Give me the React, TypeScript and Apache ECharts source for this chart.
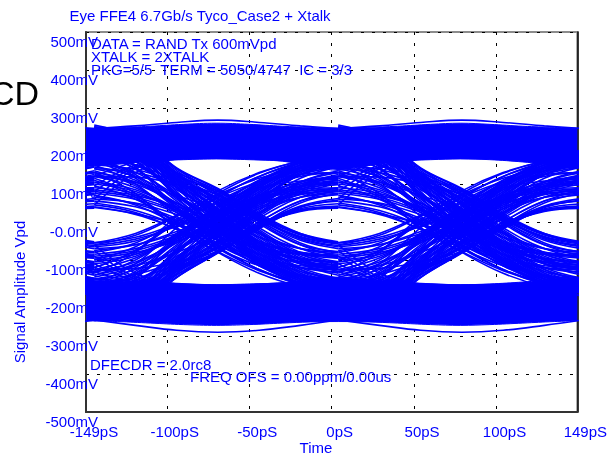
import React, { useEffect, useRef } from 'react';
import * as echarts from 'echarts';

const BLUE = '#0000ff';
const FONT = '"Liberation Sans", Arial, sans-serif';

const TITLE = 'Eye FFE4 6.7Gb/s Tyco_Case2 + Xtalk';
const NOTES_TOP = ['DATA = RAND Tx 600mVpd', 'XTALK = 2XTALK', 'PKG=5/5\u00a0 TERM = 5050/4747\u00a0 IC = 3/3'];
const NOTE_DFE = 'DFECDR = 2.0rc8';
const NOTE_FREQ = 'FREQ OFS = 0.00ppm/0.00us';
const Y_NAME = 'Signal Amplitude Vpd';
const X_NAME = 'Time';
const SIDE_TEXT = 'CD';

const X_LABELS = [-149, -100, -50, 0, 50, 100, 149];
const X_GRID = [-100, -50, 0, 50, 100];

// eye-centre times (ps) where each one-UI segment of the folded eye begins
const SEG_STARTS = [-292, -144, 4];
// sample times inside one UI segment (ps from the eye centre)
const SEG_T = [0, 25, 50, 75, 100, 125, 148];

// high -> low transitions (mV)
const HL = [
  [110, 65, -15, -80, -135, -170, -185],
  [150, 100, 15, -65, -125, -165, -185],
  [70, 45, -5, -55, -95, -115, -120],
  [200, 145, 35, -50, -115, -160, -180],
  [240, 190, 80, -15, -100, -155, -180],
  [180, 140, 60, -20, -95, -150, -170],
  [130, 105, 45, -10, -70, -110, -125],
  [250, 210, 110, 15, -75, -140, -170],
  [220, 185, 95, 5, -80, -140, -165],
  [160, 130, 70, 10, -55, -100, -115],
  [235, 200, 100, 25, -60, -130, -160],
  [90, 75, 35, -5, -50, -80, -90],
  [245, 215, 125, 45, -35, -100, -130],
  [210, 190, 120, 60, -15, -70, -95],
  [175, 165, 120, 80, 10, -45, -65],
  [250, 225, 135, 70, 0, -60, -90],
  [140, 130, 100, 65, 5, -40, -58],
  [195, 160, 75, -10, -95, -150, -175],
  [120, 90, 30, -35, -100, -140, -155],
  [230, 175, 65, -30, -110, -165, -195],
  [55, 40, 5, -30, -65, -85, -90],
  [215, 195, 115, 35, -45, -110, -140],
  [185, 150, 85, 20, -65, -125, -150],
  [240, 200, 90, -5, -90, -150, -175],
  [165, 120, 40, -40, -110, -155, -172],
  [225, 180, 75, -20, -105, -160, -185],
  [100, 80, 30, -20, -75, -110, -122],
  [205, 175, 90, 15, -70, -135, -160],
  [145, 120, 65, 5, -60, -105, -125],
  [250, 215, 115, 30, -55, -125, -155],
  [80, 65, 30, -10, -55, -85, -95],
  [190, 165, 100, 35, -40, -100, -120],
  [230, 205, 125, 55, -25, -85, -110],
  [120, 105, 70, 30, -30, -70, -85],
  [170, 125, 45, -35, -105, -150, -165],
  [240, 195, 95, 10, -80, -145, -175],
  [135, 95, 25, -45, -105, -145, -160],
  [200, 180, 110, 45, -30, -90, -115],
  [60, 50, 20, -15, -55, -80, -88],
  [215, 170, 70, -15, -100, -155, -178],
  [105, 85, 35, -25, -85, -120, -132],
  [255, 220, 120, 25, -65, -135, -165],
  [185, 140, 55, -25, -100, -150, -168],
  [125, 100, 50, -5, -65, -105, -118],
  [225, 195, 110, 30, -55, -120, -148],
  [160, 115, 35, -45, -115, -160, -178],
  [245, 205, 100, 5, -85, -150, -182],
  [75, 60, 25, -20, -65, -95, -105],
  [195, 175, 110, 50, -25, -85, -108],
  [140, 110, 50, -15, -85, -130, -148],
  [235, 210, 130, 60, -20, -80, -105],
  [115, 70, -5, -70, -125, -160, -175],
  [205, 160, 70, -10, -90, -145, -168],
  [85, 70, 40, 5, -40, -70, -80],
  [250, 230, 140, 75, 5, -55, -80],
  [170, 150, 90, 25, -50, -110, -135],
  [220, 185, 105, 20, -70, -140, -170],
  [95, 60, 0, -60, -110, -140, -150],
  [180, 165, 115, 60, -5, -60, -78],
  [240, 220, 130, 50, -30, -95, -125],
  [40, 22, -5, -40, -70, -85, -90],
  [50, 30, -8, -48, -85, -105, -112],
  [65, 48, 10, -30, -72, -98, -108],
  [165, 150, 110, 70, 8, -38, -55],
  [200, 185, 125, 75, 12, -42, -62],
  [150, 138, 105, 62, 2, -48, -70],
  [230, 215, 140, 85, 18, -32, -54],
  [190, 180, 130, 82, 15, -30, -52],
  [245, 228, 142, 88, 22, -30, -56],
  [120, 118, 100, 72, 12, -34, -55],
  [45, 25, -20, -70, -115, -140, -150],
  [38, 20, -18, -62, -100, -120, -125],
  [130, 75, -18, -78, -128, -162, -178],
];

// low -> high transitions (mV)
const LH = [
  [-120, -75, 5, 75, 128, 160, 172],
  [-160, -110, -15, 65, 120, 158, 175],
  [-80, -55, 0, 50, 90, 108, 112],
  [-210, -150, -40, 45, 110, 150, 170],
  [-245, -195, -85, 10, 95, 150, 172],
  [-185, -145, -65, 15, 90, 142, 162],
  [-140, -110, -50, 5, 65, 105, 120],
  [-255, -215, -115, -20, 70, 135, 165],
  [-225, -190, -100, -10, 75, 135, 160],
  [-165, -135, -75, -15, 50, 95, 110],
  [-240, -205, -105, -30, 55, 125, 155],
  [-100, -85, -45, -5, 40, 72, 82],
  [-250, -220, -130, -50, 30, 95, 125],
  [-215, -195, -125, -65, 10, 65, 90],
  [-180, -170, -125, -80, -10, 40, 55],
  [-255, -230, -140, -75, 0, 55, 85],
  [-150, -138, -105, -70, -5, 35, 48],
  [-200, -165, -80, 5, 90, 145, 170],
  [-125, -95, -35, 30, 95, 135, 150],
  [-235, -180, -70, 25, 105, 160, 190],
  [-65, -50, -10, 25, 60, 80, 85],
  [-220, -200, -120, -40, 40, 105, 135],
  [-190, -155, -90, -20, 60, 125, 150],
  [-245, -205, -95, 0, 90, 150, 175],
  [-175, -130, -45, 35, 105, 150, 168],
  [-230, -185, -80, 15, 100, 155, 180],
  [-110, -90, -40, 15, 70, 105, 118],
  [-210, -180, -95, -15, 70, 130, 155],
  [-150, -125, -70, -10, 55, 100, 120],
  [-255, -220, -120, -30, 55, 125, 155],
  [-90, -75, -40, 0, 45, 78, 88],
  [-195, -170, -105, -40, 35, 95, 118],
  [-240, -210, -130, -60, 20, 85, 110],
  [-130, -115, -80, -35, 25, 65, 80],
  [-180, -135, -50, 30, 100, 145, 162],
  [-245, -200, -100, -15, 75, 140, 170],
  [-140, -100, -30, 40, 100, 140, 155],
  [-205, -185, -115, -50, 25, 85, 110],
  [-70, -60, -30, 10, 50, 75, 82],
  [-220, -175, -75, 10, 95, 150, 175],
  [-105, -85, -35, 25, 85, 120, 130],
  [-260, -225, -125, -30, 60, 130, 160],
  [-180, -140, -60, 20, 95, 145, 165],
  [-130, -105, -55, 0, 60, 100, 115],
  [-225, -195, -110, -30, 50, 115, 145],
  [-165, -120, -40, 40, 110, 155, 175],
  [-250, -210, -105, -10, 80, 145, 178],
  [-85, -70, -35, 10, 55, 88, 98],
  [-200, -180, -115, -55, 20, 80, 105],
  [-145, -115, -55, 10, 80, 125, 145],
  [-240, -215, -135, -65, 15, 75, 100],
  [-120, -75, 0, 65, 120, 155, 170],
  [-210, -165, -75, 5, 85, 140, 165],
  [-95, -80, -50, -15, 35, 65, 75],
  [-255, -235, -145, -80, -10, 50, 75],
  [-175, -155, -95, -30, 45, 105, 130],
  [-225, -190, -110, -25, 65, 135, 165],
  [-100, -65, -5, 55, 105, 135, 145],
  [-185, -170, -120, -65, 0, 55, 72],
  [-245, -225, -135, -55, 25, 90, 120],
  [-55, -40, -5, 30, 65, 85, 90],
  [-62, -45, -12, 25, 70, 95, 105],
  [-75, -60, -25, 15, 60, 92, 102],
  [-170, -160, -120, -78, -12, 30, 42],
  [-205, -190, -130, -80, -15, 38, 58],
  [-160, -148, -112, -70, -8, 42, 62],
  [-235, -220, -145, -80, -15, 30, 38],
  [-195, -182, -138, -80, -12, 28, 36],
  [-250, -232, -146, -82, -18, 32, 40],
  [-125, -122, -105, -76, -10, 30, 38],
  [-55, -30, 18, 72, 115, 140, 150],
  [-60, -35, 15, 65, 105, 125, 130],
  [-135, -80, 15, 82, 130, 160, 175],
];

// high -> high and low -> low paths (mV)
const HH = [
  [246, 253, 262, 268, 262, 253, 246],
  [60, 140, 168, 174, 177, 178, 179],
  [95, 150, 170, 176, 180, 182, 183],
  [45, 130, 166, 172, 176, 178, 180],
  [80, 145, 169, 175, 178, 180, 181],
  [120, 158, 172, 178, 182, 184, 185],
  [150, 158, 166, 170, 168, 160, 150],
];
const LL = [
  [-258, -272, -285, -290, -285, -272, -258],
  [-75, -145, -165, -172, -176, -178, -180],
  [-110, -155, -170, -178, -182, -184, -185],
  [-60, -135, -163, -172, -178, -180, -182],
  [-90, -150, -168, -175, -179, -181, -183],
  [-130, -160, -172, -178, -182, -184, -186],
  [-150, -156, -162, -166, -164, -158, -150],
];

// dense rails (solid blue) over the whole window
const BAND_T = [-149, -130, -110, -90, -70, -50, -30, -13, 4, 22, 40, 60, 78, 96, 116, 135, 149];
const UP_TOP = [246, 248, 252, 257, 260, 257, 252, 249, 247, 249, 252, 257, 260, 257, 252, 249, 247];
const UP_BOT = [150, 152, 160, 164, 166, 164, 160, 148, 136, 148, 160, 164, 166, 164, 158, 150, 146];
const LO_TOP = [-152, -155, -160, -163, -165, -163, -160, -152, -145, -152, -160, -163, -165, -163, -158, -152, -150];
const LO_BOT = [-260, -262, -266, -270, -272, -270, -266, -263, -262, -263, -266, -270, -272, -270, -266, -262, -260];

function traceSeries(vals: number[]) {
  return SEG_STARTS.map((s) => ({
    type: 'line',
    data: SEG_T.map((t, i) => [s + t, vals[i]]),
    smooth: 0.4,
    symbol: 'none',
    silent: true,
    z: 3,
    lineStyle: { color: BLUE, width: 1.6 },
  }));
}

function edgeSeries(vals: number[]) {
  return {
    type: 'line',
    data: BAND_T.map((t, i) => [t, vals[i]]),
    smooth: 0.4,
    symbol: 'none',
    silent: true,
    z: 3,
    lineStyle: { color: BLUE, width: 1 },
  };
}

export default function App() {
  const ref = useRef<HTMLDivElement>(null);
  useEffect(() => {
    if (!ref.current) return;
    const chart = echarts.init(ref.current, null, { renderer: 'svg' });
    const series: any[] = [];
    series.push({
      type: 'custom',
      silent: true,
      z: 2,
      data: [[0, 0]],
      renderItem: (params: any, api: any) => {
        const up = BAND_T.map((t, i) => api.coord([t, UP_TOP[i]])).concat(
          BAND_T.map((t, i) => api.coord([t, UP_BOT[i]])).reverse()
        );
        const lo = BAND_T.map((t, i) => api.coord([t, LO_TOP[i]])).concat(
          BAND_T.map((t, i) => api.coord([t, LO_BOT[i]])).reverse()
        );
        return {
          type: 'group',
          children: [
            { type: 'polygon', shape: { points: up }, style: { fill: BLUE } },
            { type: 'polygon', shape: { points: lo }, style: { fill: BLUE } },
          ],
        };
      },
    });
    [UP_TOP, UP_BOT, LO_TOP, LO_BOT].forEach((v) => series.push(edgeSeries(v)));
    [...HH, ...LL, ...HL, ...LH].forEach((v) => series.push(...traceSeries(v)));

    const gridLine = { show: true, lineStyle: { color: '#000', width: 1, type: [3, 8] } };
    const txt = (text: string, x: number, y: number, extra: any = {}) => ({
      type: 'text',
      x,
      y,
      z: 100,
      silent: true,
      style: {
        text,
        fill: BLUE,
        fontSize: 15,
        fontFamily: FONT,
        align: 'left',
        verticalAlign: 'middle',
        ...extra,
      },
    });

    chart.setOption({
      animation: false,
      grid: {
        left: 86,
        right: 29,
        top: 32,
        bottom: 42,
        show: true,
        borderColor: '#8c8c8c',
        borderWidth: 2,
      },
      xAxis: {
        type: 'value',
        min: -149,
        max: 149,
        axisLine: { show: true, onZero: false, lineStyle: { color: '#333', width: 2 } },
        axisTick: { show: false, customValues: X_GRID },
        splitLine: gridLine,
        axisLabel: {
          customValues: X_LABELS,
          margin: 12,
          padding: [0, 0, 0, 16],
          color: BLUE,
          fontSize: 15,
          fontFamily: FONT,
          formatter: (v: number) => `${v}pS`,
        },
      },
      yAxis: [
        {
          type: 'value',
          min: -500,
          max: 500,
          interval: 100,
          axisLine: { show: true, onZero: false, lineStyle: { color: '#333', width: 2 } },
          axisTick: { show: false },
          splitLine: gridLine,
          axisLabel: {
            margin: -12,
            verticalAlign: 'top',
            lineHeight: 18,
            color: BLUE,
            fontSize: 15,
            fontFamily: FONT,
            formatter: (v: number) => (v === 0 ? '-0.0mV' : `${v}mV`),
          },
        },
        {
          type: 'value',
          position: 'right',
          min: -500,
          max: 500,
          interval: 100,
          axisLine: { show: true, onZero: false, lineStyle: { color: '#000', width: 1.5 } },
          axisTick: { show: false },
          axisLabel: { show: false },
          splitLine: { show: false },
        },
      ],
      graphic: [
        txt(TITLE, 200, 15, { align: 'center' }),
        txt(NOTES_TOP[0], 91, 43),
        txt(NOTES_TOP[1], 91, 56),
        txt(NOTES_TOP[2], 91, 69),
        txt(NOTE_DFE, 90, 364),
        txt(NOTE_FREQ, 190, 376),
        txt(X_NAME, 316, 447, { align: 'center' }),
        {
          type: 'text',
          x: 19,
          y: 292,
          rotation: Math.PI / 2,
          z: 100,
          silent: true,
          style: {
            text: Y_NAME,
            fill: BLUE,
            fontSize: 15,
            fontFamily: FONT,
            align: 'center',
            verticalAlign: 'middle',
          },
        },
        {
          type: 'text',
          x: 39,
          y: 93,
          z: 100,
          silent: true,
          style: {
            text: SIDE_TEXT,
            fill: '#000',
            fontSize: 34,
            fontFamily: FONT,
            align: 'right',
            verticalAlign: 'middle',
          },
        },
      ],
      series,
    });
    return () => chart.dispose();
  }, []);
  return <div ref={ref} style={{ position: 'fixed', left: 0, top: 0, width: 610, height: 454 }} />;
}
